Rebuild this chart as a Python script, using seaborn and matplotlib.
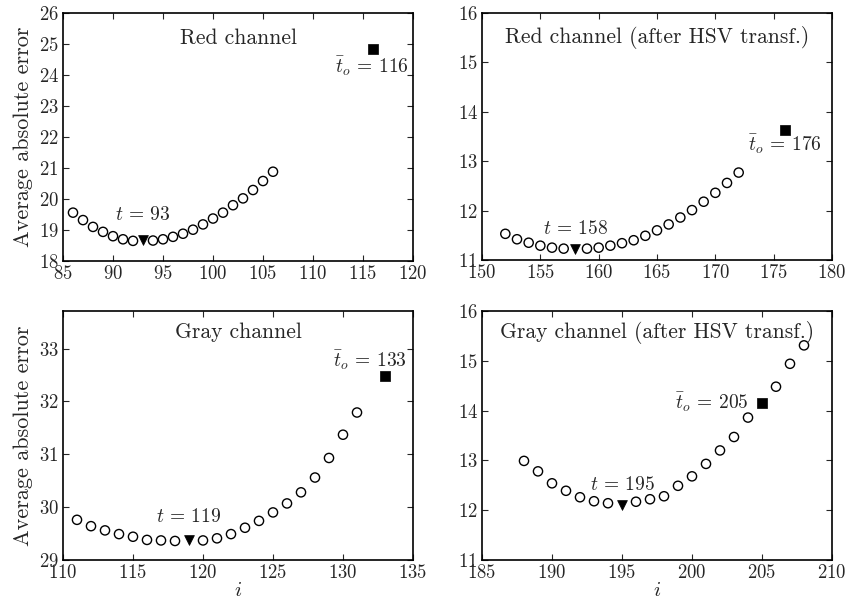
import matplotlib
matplotlib.use("Agg")
import matplotlib.pyplot as plt
from matplotlib.ticker import MultipleLocator
import seaborn as sns
import pandas as pd

sns.set_style("ticks")
plt.rcParams.update({
    "font.family": "serif",
    "font.serif": ["cmr10", "DejaVu Serif"],
    "mathtext.fontset": "cm",
    "axes.formatter.use_mathtext": True,
    "font.size": 13,
    "xtick.direction": "in",
    "ytick.direction": "in",
    "xtick.top": True,
    "ytick.right": True,
    "xtick.major.size": 4,
    "ytick.major.size": 4,
    "axes.linewidth": 1.0,
    "axes.edgecolor": "black",
})

# Panel 1: Red channel
red_i = [86, 87, 88, 89, 90, 91, 92, 94, 95, 96, 97, 98, 99, 100, 101, 102, 103, 104, 105, 106]
red_err = [19.56, 19.32, 19.10, 18.94, 18.80, 18.70, 18.65, 18.66, 18.70, 18.78, 18.88, 19.01,
           19.18, 19.37, 19.56, 19.80, 20.02, 20.29, 20.58, 20.88]
red_t = (93, 18.67)
red_to = (116, 24.84)

# Panel 2: Red channel (after HSV transf.)
redhsv_i = [152, 153, 154, 155, 156, 157, 159, 160, 161, 162, 163, 164, 165, 166, 167, 168,
            169, 170, 171, 172]
redhsv_err = [11.53, 11.42, 11.35, 11.29, 11.25, 11.23, 11.23, 11.25, 11.29, 11.34, 11.40,
              11.49, 11.60, 11.72, 11.86, 12.01, 12.18, 12.36, 12.56, 12.77]
redhsv_t = (158, 11.23)
redhsv_to = (176, 13.63)

# Panel 3: Gray channel
gray_i = [111, 112, 113, 114, 115, 116, 117, 118, 120, 121, 122, 123, 124, 125, 126, 127, 128,
          129, 130, 131]
gray_err = [29.76, 29.64, 29.56, 29.49, 29.44, 29.38, 29.37, 29.36, 29.37, 29.41, 29.49, 29.61,
            29.74, 29.90, 30.07, 30.28, 30.56, 30.93, 31.37, 31.79]
gray_t = (119, 29.38)
gray_to = (133, 32.48)

# Panel 4: Gray channel (after HSV transf.)
grayhsv_i = [188, 189, 190, 191, 192, 193, 194, 196, 197, 198, 199, 200, 201, 202, 203, 204,
             206, 207, 208]
grayhsv_err = [12.99, 12.78, 12.54, 12.39, 12.26, 12.18, 12.14, 12.17, 12.22, 12.28, 12.49,
               12.68, 12.93, 13.20, 13.47, 13.86, 14.48, 14.94, 15.31]
grayhsv_t = (195, 12.11)
grayhsv_to = (205, 14.16)

fig = plt.figure(figsize=(8.48, 6.01), dpi=100)
W, H = 848, 601

def make_ax(l, t, r, b):
    return fig.add_axes([l / W, 1 - b / H, (r - l) / W, (b - t) / H])

panels = [
    dict(rect=(63, 13, 413, 261), i=red_i, e=red_err, t=red_t, to=red_to,
         title="Red channel", title_y=0.90, xlim=(85, 120), ylim=(18, 26),
         tlabel=r"$t\,=\,93$", tpos=(93, 19.48), tolabel=r"$\bar{t}_o\,=\,116$", topos=(115.85, 24.27),
         ylabel=True, xlabel=False),
    dict(rect=(482, 13, 832, 260), i=redhsv_i, e=redhsv_err, t=redhsv_t, to=redhsv_to,
         title="Red channel (after HSV transf.)", title_y=0.90, xlim=(150, 180), ylim=(11, 16),
         tlabel=r"$t\,=\,158$", tpos=(158, 11.62), tolabel=r"$\bar{t}_o\,=\,176$", topos=(175.97, 13.35),
         ylabel=False, xlabel=False),
    dict(rect=(63, 311, 413, 560), i=gray_i, e=gray_err, t=gray_t, to=gray_to,
         title="Gray channel", title_y=0.915, xlim=(110, 135), ylim=(29, 33.71),
         tlabel=r"$t\,=\,119$", tpos=(118.96, 29.81), tolabel=r"$\bar{t}_o\,=\,133$", topos=(131.93, 32.77),
         ylabel=True, xlabel=True),
    dict(rect=(482, 311, 832, 560), i=grayhsv_i, e=grayhsv_err, t=grayhsv_t, to=grayhsv_to,
         title="Gray channel (after HSV transf.)", title_y=0.915, xlim=(185, 210), ylim=(11, 16),
         tlabel=r"$t\,=\,195$", tpos=(195.04, 12.51), tolabel=r"$\bar{t}_o\,=\,205$", topos=(201.39, 14.16),
         ylabel=False, xlabel=True),
]

for p in panels:
    ax = make_ax(*p["rect"])
    df = pd.DataFrame({"i": p["i"], "err": p["e"]})
    sns.scatterplot(data=df, x="i", y="err", ax=ax, marker="o", s=44,
                    facecolor="none", edgecolor="black", linewidth=1.0, zorder=3)
    dft = pd.DataFrame({"i": [p["t"][0]], "err": [p["t"][1]]})
    sns.scatterplot(data=dft, x="i", y="err", ax=ax, marker="v", s=50,
                    color="black", edgecolor="black", linewidth=0.5, zorder=4)
    dfo = pd.DataFrame({"i": [p["to"][0]], "err": [p["to"][1]]})
    sns.scatterplot(data=dfo, x="i", y="err", ax=ax, marker="s", s=48,
                    color="black", edgecolor="black", linewidth=0.5, zorder=4)
    ax.set_xlim(*p["xlim"])
    ax.set_ylim(*p["ylim"])
    ax.xaxis.set_major_locator(MultipleLocator(5))
    ax.yaxis.set_major_locator(MultipleLocator(1))
    ax.text(0.5, p["title_y"], p["title"], transform=ax.transAxes, ha="center", va="center",
            fontsize=15.5)
    ax.text(p["tpos"][0], p["tpos"][1], p["tlabel"], ha="center", va="center", fontsize=14)
    ax.text(p["topos"][0], p["topos"][1], p["tolabel"], ha="center", va="center", fontsize=14)
    ax.set_ylabel("Average absolute error" if p["ylabel"] else "", fontsize=16, labelpad=4)
    ax.set_xlabel(r"$i$" if p["xlabel"] else "", fontsize=15, labelpad=0)
    ax.tick_params(labelsize=13.5, width=0.8, pad=3)
    for s in ax.spines.values():
        s.set_visible(True)
        s.set_linewidth(1.2)

fig.savefig("out.png", dpi=100)
